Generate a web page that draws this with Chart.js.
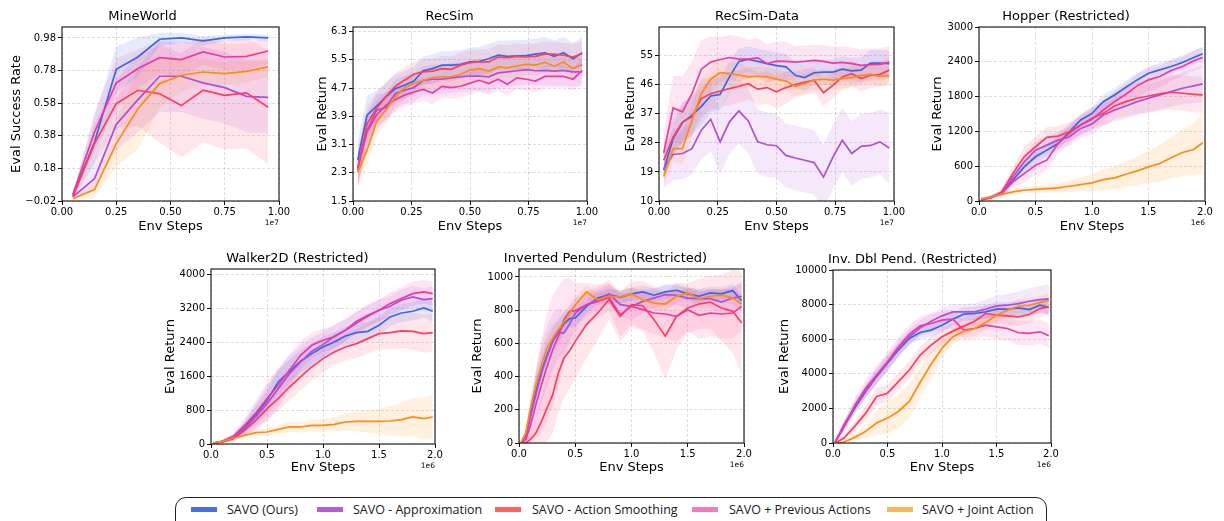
<!DOCTYPE html>
<html>
<head>
<meta charset="utf-8">
<title>SAVO ablations</title>
<script src="https://cdn.jsdelivr.net/npm/chart.js@4.4.1/dist/chart.umd.min.js"></script>
<style>
  html, body { margin: 0; padding: 0; background: #fff; }
  body { width: 1224px; height: 521px; overflow: hidden; position: relative; }
  canvas.panel { position: absolute; }
  #legend { position: absolute; left: 175px; top: 497px; width: 872px; height: 36px;
            border: 1.3px solid #222; border-radius: 11px; box-sizing: border-box; }
  .swatch { position: absolute; top: 507px; height: 5px; }
  .key { position: absolute; top: 500px; height: 20px; line-height: 20px; white-space: nowrap;
         font-family: 'Open Sans', 'Noto Sans', sans-serif; font-size: 12.5px; color: #1a1a1a; }
</style>
</head>
<body>
<div id="legend"></div>
<script>
// ---------- tick values and labels ----------
const unitXTicks = [0, 0.25, 0.5, 0.75, 1.0];
const unitXLabels = ['0.00', '0.25', '0.50', '0.75', '1.00'];
const millionXTicks = [0, 0.5, 1.0, 1.5, 2.0];
const millionXLabels = ['0.0', '0.5', '1.0', '1.5', '2.0'];

const mineYTicks = [-0.02, 0.18, 0.38, 0.58, 0.78, 0.98];
const mineYLabels = ['\u22120.02', '0.18', '0.38', '0.58', '0.78', '0.98'];
const recsimYTicks = [1.5, 2.3, 3.1, 3.9, 4.7, 5.5, 6.3];
const recsimYLabels = ['1.5', '2.3', '3.1', '3.9', '4.7', '5.5', '6.3'];
const recdataYTicks = [10, 19, 28, 37, 46, 55];
const recdataYLabels = ['10', '19', '28', '37', '46', '55'];
const hopperYTicks = [0, 600, 1200, 1800, 2400, 3000];
const hopperYLabels = ['0', '600', '1200', '1800', '2400', '3000'];
const walkerYTicks = [0, 800, 1600, 2400, 3200, 4000];
const walkerYLabels = ['0', '800', '1600', '2400', '3200', '4000'];
const pendYTicks = [0, 200, 400, 600, 800, 1000];
const pendYLabels = ['0', '200', '400', '600', '800', '1000'];
const dblYTicks = [0, 2000, 4000, 6000, 8000, 10000];
const dblYLabels = ['0', '2000', '4000', '6000', '8000', '10000'];

// ---------- MineWorld (x in 1e7 steps) ----------
const mineSteps = [0.05, 0.15, 0.25, 0.35, 0.45, 0.55, 0.65, 0.75, 0.85, 0.95];
const mineSavo = [0.015, 0.342, 0.788, 0.863, 0.972, 0.98, 0.962, 0.98, 0.986, 0.98];
const mineSavoBand = [0.01, 0.16, 0.14, 0.12, 0.04, 0.03, 0.03, 0.02, 0.02, 0.02];
const mineApprox = [0.005, 0.117, 0.45, 0.602, 0.745, 0.745, 0.704, 0.675, 0.622, 0.616];
const mineApproxBand = [0.01, 0.06, 0.16, 0.2, 0.22, 0.22, 0.22, 0.22, 0.22, 0.22];
const mineSmooth = [0.005, 0.332, 0.577, 0.659, 0.638, 0.565, 0.659, 0.628, 0.643, 0.555];
const mineSmoothBand = [0.01, 0.12, 0.15, 0.22, 0.3, 0.32, 0.32, 0.33, 0.34, 0.35];
const minePrev = [0.021, 0.403, 0.704, 0.792, 0.859, 0.847, 0.894, 0.863, 0.867, 0.90];
const minePrevBand = [0.01, 0.12, 0.15, 0.12, 0.1, 0.1, 0.08, 0.08, 0.08, 0.08];
const mineJoint = [-0.006, 0.05, 0.332, 0.546, 0.70, 0.751, 0.771, 0.761, 0.775, 0.802];
const mineJointBand = [0.01, 0.05, 0.14, 0.25, 0.15, 0.1, 0.08, 0.07, 0.07, 0.06];

// ---------- RecSim (x in 1e7 steps) ----------
const recsimSteps = [0.02, 0.06, 0.10, 0.14, 0.18, 0.22, 0.26, 0.30, 0.34, 0.38, 0.42, 0.46, 0.50,
                     0.54, 0.58, 0.62, 0.66, 0.70, 0.74, 0.78, 0.82, 0.86, 0.90, 0.94, 0.98];
const recsimSavo = [2.65, 3.93, 4.18, 4.45, 4.68, 4.78, 4.90, 5.19, 5.25, 5.35, 5.35, 5.37, 5.44,
                    5.46, 5.53, 5.63, 5.60, 5.61, 5.62, 5.66, 5.70, 5.60, 5.70, 5.53, 5.70];
const recsimSavoBand = [0.5, 0.55, 0.45, 0.4, 0.4, 0.4, 0.4, 0.4, 0.4, 0.4, 0.4, 0.4, 0.4,
                        0.4, 0.42, 0.42, 0.45, 0.45, 0.45, 0.45, 0.45, 0.45, 0.45, 0.45, 0.45];
const recsimApprox = [2.46, 3.50, 4.07, 4.15, 4.54, 4.64, 4.71, 4.92, 4.95, 4.95, 4.99, 5.02, 5.04,
                      5.04, 5.02, 5.13, 5.16, 5.19, 5.22, 5.19, 5.20, 5.18, 5.20, 5.16, 5.16];
const recsimApproxBand = [0.5, 0.5, 0.45, 0.4, 0.4, 0.4, 0.4, 0.42, 0.42, 0.42, 0.42, 0.42, 0.42,
                          0.42, 0.42, 0.42, 0.42, 0.42, 0.42, 0.42, 0.42, 0.42, 0.42, 0.42, 0.42];
const recsimSmooth = [2.37, 3.69, 4.12, 4.45, 4.75, 4.92, 5.09, 5.16, 5.18, 5.25, 5.23, 5.35, 5.42,
                      5.44, 5.44, 5.58, 5.56, 5.60, 5.58, 5.60, 5.66, 5.66, 5.63, 5.58, 5.68];
const recsimSmoothBand = [0.45, 0.5, 0.45, 0.4, 0.38, 0.36, 0.36, 0.36, 0.36, 0.36, 0.36, 0.36, 0.36,
                          0.36, 0.36, 0.36, 0.36, 0.36, 0.36, 0.36, 0.36, 0.36, 0.36, 0.36, 0.36];
const recsimPrev = [2.42, 3.46, 3.93, 4.21, 4.37, 4.50, 4.59, 4.66, 4.56, 4.75, 4.71, 4.75, 4.84,
                    4.92, 4.83, 4.95, 4.81, 4.99, 4.95, 4.90, 5.03, 5.03, 5.03, 4.95, 5.20];
const recsimPrevBand = [0.5, 0.5, 0.42, 0.38, 0.35, 0.33, 0.32, 0.32, 0.32, 0.32, 0.32, 0.32, 0.32,
                        0.32, 0.32, 0.32, 0.32, 0.32, 0.32, 0.32, 0.32, 0.32, 0.32, 0.32, 0.35];
const recsimJoint = [2.32, 2.94, 3.74, 4.07, 4.45, 4.71, 4.83, 4.92, 5.00, 5.02, 5.02, 5.09, 5.21,
                     5.25, 5.18, 5.30, 5.27, 5.33, 5.37, 5.35, 5.43, 5.32, 5.44, 5.25, 5.37];
const recsimJointBand = [0.45, 0.45, 0.4, 0.36, 0.34, 0.32, 0.3, 0.3, 0.3, 0.3, 0.3, 0.3, 0.3,
                         0.3, 0.3, 0.3, 0.3, 0.3, 0.3, 0.3, 0.3, 0.3, 0.3, 0.3, 0.3];

// ---------- RecSim-Data (x in 1e7 steps) ----------
const recdataSteps = recsimSteps;
const recdataSavo = [19.5, 29.3, 34.3, 36.5, 39.3, 42.5, 43.0, 48.4, 53.2, 53.8, 53.2, 52.5, 51.9,
                     51.5, 48.9, 48.2, 49.7, 49.9, 49.9, 50.8, 50.3, 50.5, 52.7, 52.7, 52.5];
const recdataSavoBand = [3, 5, 6, 6, 6, 5, 5, 5, 4, 4, 4, 4, 4, 4, 4, 4, 4, 4, 4, 4, 4, 4, 4, 4, 4];
const recdataApprox = [20.0, 24.4, 24.7, 26.2, 31.9, 35.3, 28.3, 34.5, 37.9, 34.8, 28.3, 27.4, 27.1,
                       24.1, 23.3, 22.6, 21.9, 17.4, 23.6, 28.8, 24.7, 26.9, 27.2, 28.3, 26.4];
const recdataApproxBand = [6, 8, 8, 8, 9, 10, 10, 10, 10, 10, 10, 10, 10, 10, 10, 10, 10, 10, 10, 10, 10, 10, 10, 10, 11];
const recdataSmooth = [22.6, 29.8, 34.5, 36.0, 41.7, 43.2, 44.0, 44.8, 45.5, 46.3, 44.6, 45.1, 43.8,
                       45.1, 46.0, 46.8, 47.4, 43.5, 45.8, 48.4, 49.4, 47.9, 48.9, 49.2, 50.5];
const recdataSmoothBand = [5, 6, 6, 6, 6, 5, 5, 5, 5, 5, 5, 5, 5, 5, 4, 4, 4, 4, 4, 4, 4, 4, 4, 4, 4];
const recdataPrev = [24.9, 38.8, 37.6, 43.2, 50.8, 53.0, 53.8, 54.4, 53.9, 53.9, 54.3, 52.5, 53.3,
                     53.2, 53.0, 53.2, 53.5, 53.2, 52.7, 52.9, 52.5, 52.0, 52.2, 52.3, 53.0];
const recdataPrevBand = [6, 10, 11, 10, 9, 8, 7, 7, 7, 6, 6, 6, 6, 6, 5, 5, 5, 5, 5, 5, 5, 5, 5, 5, 5];
const recdataJoint = [17.6, 26.2, 26.2, 35.0, 43.2, 47.7, 49.7, 49.4, 49.0, 48.4, 48.6, 48.4, 47.7,
                      47.1, 45.5, 46.3, 47.4, 47.7, 47.4, 47.9, 48.2, 48.9, 49.2, 48.6, 48.7];
const recdataJointBand = [3, 4, 5, 5, 5, 4, 4, 4, 4, 3, 3, 3, 3, 3, 3, 3, 3, 3, 3, 3, 3, 3, 3, 3, 3];

// ---------- Hopper (x in 1e6 steps) ----------
const hopperSteps = [0.02, 0.1, 0.2, 0.3, 0.4, 0.5, 0.6, 0.7, 0.8, 0.9, 1.0,
                     1.1, 1.2, 1.3, 1.4, 1.5, 1.6, 1.7, 1.8, 1.9, 1.98];
const hopperSavo = [29, 69, 138, 358, 588, 762, 877, 992, 1194, 1396, 1511,
                    1713, 1829, 1961, 2088, 2204, 2261, 2319, 2388, 2475, 2538];
const hopperSavoBand = [15, 20, 40, 80, 100, 110, 110, 110, 110, 110, 120,
                        120, 120, 120, 120, 120, 120, 120, 120, 120, 120];
const hopperApprox = [25, 58, 138, 415, 675, 877, 963, 1050, 1108, 1252, 1327,
                      1483, 1569, 1638, 1713, 1771, 1829, 1886, 1944, 1985, 2019];
const hopperApproxBand = [15, 20, 40, 90, 130, 150, 150, 150, 160, 170, 180,
                          190, 200, 220, 230, 240, 250, 260, 270, 300, 320];
const hopperSmooth = [23, 58, 156, 473, 762, 935, 1096, 1119, 1194, 1310, 1425,
                      1511, 1638, 1713, 1771, 1811, 1846, 1875, 1858, 1840, 1829];
const hopperSmoothBand = [15, 20, 50, 120, 170, 180, 180, 170, 160, 170, 190,
                          210, 230, 250, 270, 280, 290, 300, 300, 310, 320];
const hopperPrev = [20, 52, 127, 329, 473, 617, 704, 992, 1165, 1310, 1408,
                    1569, 1713, 1840, 1985, 2088, 2146, 2250, 2319, 2417, 2475];
const hopperPrevBand = [15, 20, 40, 100, 150, 170, 180, 170, 170, 170, 170,
                        170, 180, 190, 200, 200, 190, 180, 170, 170, 170];
const hopperJoint = [40, 69, 115, 156, 185, 202, 213, 225, 254, 283, 312,
                     369, 398, 462, 519, 588, 646, 744, 836, 888, 1004];
const hopperJointBand = [20, 25, 30, 40, 50, 60, 70, 80, 100, 120, 150,
                         180, 200, 220, 250, 280, 320, 360, 400, 450, 520];

// ---------- Walker2D (x in 1e6 steps) ----------
const walkerSteps = hopperSteps;
const walkerSavo = [24, 63, 165, 402, 693, 1031, 1465, 1717, 1953, 2134, 2291,
                    2409, 2551, 2630, 2661, 2803, 3000, 3094, 3134, 3213, 3134];
const walkerSavoBand = [15, 30, 60, 120, 200, 250, 280, 280, 260, 250, 240,
                        230, 220, 220, 220, 220, 220, 220, 220, 230, 240];
const walkerApprox = [20, 47, 142, 362, 638, 953, 1307, 1661, 1937, 2189, 2346,
                      2543, 2685, 2898, 3039, 3157, 3252, 3394, 3472, 3409, 3433];
const walkerApproxBand = [15, 30, 80, 180, 320, 420, 450, 420, 380, 330, 300,
                          280, 260, 250, 250, 250, 250, 250, 260, 270, 280];
const walkerSmooth = [16, 47, 126, 323, 559, 835, 1071, 1346, 1583, 1819, 2016,
                      2173, 2291, 2370, 2488, 2606, 2630, 2669, 2661, 2606, 2630];
const walkerSmoothBand = [15, 30, 60, 120, 200, 260, 300, 320, 320, 320, 320,
                          320, 320, 340, 360, 380, 400, 420, 440, 450, 450];
const walkerPrev = [20, 63, 181, 441, 732, 1071, 1386, 1740, 2094, 2331, 2449,
                    2528, 2685, 2858, 3016, 3157, 3315, 3433, 3551, 3591, 3551];
const walkerPrevBand = [15, 30, 80, 180, 300, 380, 400, 380, 340, 300, 280,
                        260, 260, 260, 260, 260, 260, 270, 280, 280, 280];
const walkerJoint = [16, 63, 142, 205, 268, 283, 346, 402, 402, 441, 441,
                     465, 520, 535, 535, 535, 543, 575, 638, 598, 638];
const walkerJointBand = [10, 20, 30, 50, 70, 90, 110, 120, 130, 140, 150,
                         170, 200, 230, 260, 300, 350, 400, 450, 500, 520];

// ---------- Inverted Pendulum (x in 1e6 steps) ----------
const pendSteps = [0.02, 0.06, 0.1, 0.15, 0.2, 0.25, 0.3, 0.35, 0.4, 0.45, 0.5, 0.6, 0.7,
                   0.8, 0.9, 1.0, 1.1, 1.2, 1.3, 1.4, 1.5, 1.6, 1.7, 1.8, 1.9, 1.98];
const pendSavo = [4, 50, 171, 311, 432, 532, 612, 669, 717, 749, 753, 823, 873,
                  894, 877, 898, 910, 890, 910, 920, 898, 884, 904, 898, 918, 857];
const pendSavoBand = [5, 30, 60, 80, 90, 90, 80, 70, 60, 50, 50, 40, 40,
                      40, 40, 40, 40, 40, 40, 40, 40, 40, 40, 40, 40, 40];
const pendApprox = [2, 30, 151, 291, 422, 522, 612, 663, 663, 717, 783, 833, 863,
                    898, 833, 823, 853, 873, 894, 890, 873, 869, 869, 849, 873, 884];
const pendApproxBand = [5, 40, 100, 150, 180, 180, 170, 150, 130, 110, 90, 70, 60,
                        60, 70, 80, 70, 60, 60, 60, 60, 60, 60, 70, 70, 80];
const pendSmooth = [0, 0, 20, 60, 131, 211, 291, 422, 512, 556, 612, 713, 783,
                    863, 763, 833, 827, 743, 643, 763, 813, 837, 849, 813, 793, 723];
const pendSmoothBand = [5, 10, 40, 90, 150, 200, 230, 240, 240, 230, 220, 200, 160,
                        120, 150, 140, 150, 200, 260, 200, 150, 150, 160, 200, 250, 310];
const pendPrev = [2, 20, 100, 231, 351, 462, 562, 643, 743, 793, 797, 833, 853,
                  877, 773, 823, 803, 783, 777, 763, 803, 769, 783, 777, 783, 823];
const pendPrevBand = [5, 30, 100, 200, 280, 330, 330, 300, 250, 200, 170, 130, 100,
                      80, 130, 110, 120, 130, 140, 150, 130, 140, 140, 150, 150, 150];
const pendJoint = [6, 60, 201, 351, 472, 572, 633, 683, 729, 783, 833, 910, 863,
                   884, 880, 898, 863, 843, 837, 884, 904, 869, 884, 890, 873, 837];
const pendJointBand = [5, 30, 60, 80, 90, 90, 80, 70, 60, 50, 50, 40, 40,
                       40, 40, 40, 40, 40, 40, 40, 40, 40, 40, 40, 40, 40];

// ---------- Inverted Double Pendulum (x in 1e6 steps) ----------
const dblSteps = hopperSteps;
const dblSavo = [58, 960, 2015, 2974, 3838, 4606, 5373, 6045, 6390, 6525, 6812,
                 7158, 7446, 7484, 7580, 7733, 7733, 7810, 7714, 7964, 7830];
const dblSavoBand = [30, 200, 300, 350, 400, 400, 400, 400, 400, 400, 400,
                     400, 400, 400, 400, 400, 400, 400, 400, 400, 400];
const dblApprox = [58, 1055, 2111, 3013, 3876, 4644, 5431, 6141, 6659, 7043, 7350,
                   7580, 7580, 7580, 7733, 7925, 7964, 8060, 8194, 8290, 8328];
const dblApproxBand = [30, 250, 350, 400, 450, 450, 450, 450, 450, 450, 450,
                       450, 450, 500, 550, 600, 650, 700, 750, 800, 850];
const dblSmooth = [0, 288, 960, 1727, 2687, 2879, 3550, 4222, 5085, 5661, 6141,
                   6467, 6755, 7043, 7484, 7388, 7350, 7292, 7427, 7772, 7868];
const dblSmoothBand = [20, 150, 300, 400, 500, 500, 500, 500, 500, 500, 500,
                       500, 500, 500, 500, 500, 500, 500, 500, 500, 500];
const dblPrev = [58, 902, 2168, 3166, 3934, 4702, 5565, 6275, 6774, 6908, 7100,
                 7158, 6525, 6620, 6812, 6716, 6620, 6371, 6333, 6429, 6198];
const dblPrevBand = [30, 300, 450, 500, 550, 550, 550, 550, 550, 550, 550,
                     550, 550, 600, 650, 700, 700, 700, 700, 700, 700];
const dblJoint = [0, 58, 326, 672, 1151, 1439, 1823, 2399, 3512, 4548, 5469,
                  6141, 6467, 6620, 6966, 7388, 7676, 7906, 7964, 8117, 8252];
const dblJointBand = [10, 50, 200, 400, 700, 900, 1000, 1000, 900, 800, 600,
                      450, 400, 400, 400, 400, 400, 400, 400, 400, 400];

// ---------- methods ----------
const methodNames = ['SAVO (Ours)', 'SAVO - Approximation', 'SAVO - Action Smoothing',
                     'SAVO + Previous Actions', 'SAVO + Joint Action'];
const lineColors = ['#3d64e4', '#ae4fd6', '#ff3d5e', '#f0389f', '#ff8a12'];
const keyColors  = ['#4a6fe3', '#b45dd6', '#ff6262', '#f27dbc', '#f9b65c'];
const bandRGB    = ['61,100,228', '174,79,214', '255,61,94', '240,56,159', '255,138,18'];

const FONT = "'DejaVu Sans', 'Liberation Sans', sans-serif";

// panel layout: canvas origin, y-axis width, plot size, x-axis height
const panels = [
  { title: 'MineWorld', yTitle: 'Eval Success Rate', steps: mineSteps,
    lines: [mineSavo, mineApprox, mineSmooth, minePrev, mineJoint],
    bands: [mineSavoBand, mineApproxBand, mineSmoothBand, minePrevBand, mineJointBand],
    xTicks: unitXTicks, xLabels: unitXLabels, xMax: 1.0, offsetText: '1e7',
    yTicks: mineYTicks, yLabels: mineYLabels, yMin: -0.02, yMax: 1.047,
    left: 6, top: 0, yW: 56, plotW: 217, plotH: 174, xH: 35 },
  { title: 'RecSim', yTitle: 'Eval Return', steps: recsimSteps,
    lines: [recsimSavo, recsimApprox, recsimSmooth, recsimPrev, recsimJoint],
    bands: [recsimSavoBand, recsimApproxBand, recsimSmoothBand, recsimPrevBand, recsimJointBand],
    xTicks: unitXTicks, xLabels: unitXLabels, xMax: 1.0, offsetText: '1e7',
    yTicks: recsimYTicks, yLabels: recsimYLabels, yMin: 1.5, yMax: 6.43,
    left: 312, top: 0, yW: 41, plotW: 234, plotH: 174, xH: 35 },
  { title: 'RecSim-Data', yTitle: 'Eval Return', steps: recdataSteps,
    lines: [recdataSavo, recdataApprox, recdataSmooth, recdataPrev, recdataJoint],
    bands: [recdataSavoBand, recdataApproxBand, recdataSmoothBand, recdataPrevBand, recdataJointBand],
    xTicks: unitXTicks, xLabels: unitXLabels, xMax: 1.0, offsetText: '1e7',
    yTicks: recdataYTicks, yLabels: recdataYLabels, yMin: 10, yMax: 63.85,
    left: 620, top: 0, yW: 39, plotW: 235, plotH: 174, xH: 35 },
  { title: 'Hopper (Restricted)', yTitle: 'Eval Return', steps: hopperSteps,
    lines: [hopperSavo, hopperApprox, hopperSmooth, hopperPrev, hopperJoint],
    bands: [hopperSavoBand, hopperApproxBand, hopperSmoothBand, hopperPrevBand, hopperJointBand],
    xTicks: millionXTicks, xLabels: millionXLabels, xMax: 2.0, offsetText: '1e6',
    yTicks: hopperYTicks, yLabels: hopperYLabels, yMin: 0, yMax: 3000,
    left: 927, top: 0, yW: 52, plotW: 226, plotH: 174, xH: 35 },
  { title: 'Walker2D (Restricted)', yTitle: 'Eval Return', steps: walkerSteps,
    lines: [walkerSavo, walkerApprox, walkerSmooth, walkerPrev, walkerJoint],
    bands: [walkerSavoBand, walkerApproxBand, walkerSmoothBand, walkerPrevBand, walkerJointBand],
    xTicks: millionXTicks, xLabels: millionXLabels, xMax: 2.0, offsetText: '1e6',
    yTicks: walkerYTicks, yLabels: walkerYLabels, yMin: 0, yMax: 4132,
    left: 160, top: 242, yW: 51, plotW: 224, plotH: 175, xH: 33 },
  { title: 'Inverted Pendulum (Restricted)', yTitle: 'Eval Return', steps: pendSteps,
    lines: [pendSavo, pendApprox, pendSmooth, pendPrev, pendJoint],
    bands: [pendSavoBand, pendApproxBand, pendSmoothBand, pendPrevBand, pendJointBand],
    xTicks: millionXTicks, xLabels: millionXLabels, xMax: 2.0, offsetText: '1e6',
    yTicks: pendYTicks, yLabels: pendYLabels, yMin: 0, yMax: 1048,
    left: 467, top: 242, yW: 52, plotW: 225, plotH: 174, xH: 34 },
  { title: 'Inv. Dbl Pend. (Restricted)', yTitle: 'Eval Return', steps: dblSteps,
    lines: [dblSavo, dblApprox, dblSmooth, dblPrev, dblJoint],
    bands: [dblSavoBand, dblApproxBand, dblSmoothBand, dblPrevBand, dblJointBand],
    xTicks: millionXTicks, xLabels: millionXLabels, xMax: 2.0, offsetText: '1e6',
    yTicks: dblYTicks, yLabels: dblYLabels, yMin: 0, yMax: 10000,
    left: 774, top: 243, yW: 59, plotW: 218, plotH: 173, xH: 34 }
];

const RIGHT_PAD = 16;
const TITLE_H = 27;

// axes box on all four sides plus the scientific offset label
const framePlugin = {
  id: 'frame',
  afterDatasetsDraw(chart) {
    const a = chart.chartArea, ctx = chart.ctx;
    ctx.save();
    ctx.strokeStyle = '#111';
    ctx.lineWidth = 1.1;
    ctx.strokeRect(a.left, a.top, a.right - a.left, a.bottom - a.top);
    ctx.restore();
  },
  afterDraw(chart, args, opts) {
    const a = chart.chartArea, ctx = chart.ctx;
    ctx.save();
    ctx.fillStyle = '#000';
    ctx.font = '7.5px ' + FONT;
    ctx.textAlign = 'right';
    ctx.textBaseline = 'middle';
    ctx.fillText(opts.text, a.right, a.bottom + 22);
    ctx.restore();
  }
};

function pointsOf(steps, ys) {
  return steps.map((x, j) => ({ x: x, y: ys[j] }));
}

panels.forEach(p => {
  const canvas = document.createElement('canvas');
  canvas.className = 'panel';
  const w = p.yW + p.plotW + RIGHT_PAD;
  const h = TITLE_H + p.plotH + p.xH;
  canvas.width = w; canvas.height = h;
  canvas.style.left = p.left + 'px';
  canvas.style.top = p.top + 'px';
  canvas.style.width = w + 'px';
  canvas.style.height = h + 'px';
  document.body.appendChild(canvas);

  const datasets = [];
  // shaded spread around each curve
  p.lines.forEach((ys, i) => {
    const band = p.bands[i];
    datasets.push({
      data: pointsOf(p.steps, ys.map((v, j) => v - band[j])),
      borderWidth: 0, pointRadius: 0, fill: false, order: 20 + i
    });
    datasets.push({
      data: pointsOf(p.steps, ys.map((v, j) => v + band[j])),
      borderWidth: 0, pointRadius: 0, fill: '-1', order: 20 + i,
      backgroundColor: 'rgba(' + bandRGB[i] + ',0.13)'
    });
  });
  // mean curves
  p.lines.forEach((ys, i) => {
    datasets.push({
      label: methodNames[i],
      data: pointsOf(p.steps, ys),
      borderColor: lineColors[i], borderWidth: 1.7, pointRadius: 0,
      fill: false, tension: 0, order: 5 - i
    });
  });

  const tickFont = { family: FONT, size: 10 };
  const labelFont = { family: FONT, size: 13, lineHeight: 1 };
  const gridOpts = { color: 'rgba(0,0,0,0.17)', lineWidth: 0.8, drawTicks: true,
                     tickLength: 4, tickColor: '#111', tickWidth: 1 };

  new Chart(canvas, {
    type: 'line',
    data: { datasets: datasets },
    plugins: [framePlugin],
    options: {
      responsive: false, animation: false, devicePixelRatio: 1,
      layout: { padding: { left: 0, right: RIGHT_PAD, top: 0, bottom: 0 } },
      events: [],
      plugins: {
        legend: { display: false },
        tooltip: { enabled: false },
        title: { display: true, text: p.title, color: '#000',
                 font: { family: FONT, size: 13, lineHeight: 1, weight: 'normal' },
                 padding: { top: 10, bottom: 4 } },
        frame: { text: p.offsetText }
      },
      scales: {
        x: {
          type: 'linear', min: 0, max: p.xMax,
          afterBuildTicks: s => { s.ticks = p.xTicks.map(v => ({ value: v })); },
          afterFit: s => { s.height = p.xH; s.paddingLeft = 0; s.paddingRight = 0; },
          ticks: { autoSkip: false, maxRotation: 0, minRotation: 0, padding: 1, color: '#000',
                   font: tickFont, callback: (v, i) => p.xLabels[i] },
          grid: gridOpts,
          border: { display: false, dash: [3, 2] },
          title: { display: true, text: 'Env Steps', color: '#000', font: labelFont,
                   padding: { top: 0, bottom: 3 } }
        },
        y: {
          type: 'linear', min: p.yMin, max: p.yMax,
          afterBuildTicks: s => { s.ticks = p.yTicks.map(v => ({ value: v })); },
          afterFit: s => { s.width = p.yW; s.paddingTop = 0; s.paddingBottom = 0; },
          ticks: { autoSkip: false, padding: 2, color: '#000', font: tickFont,
                   callback: (v, i) => p.yLabels[i] },
          grid: gridOpts,
          border: { display: false, dash: [3, 2] },
          title: { display: true, text: p.yTitle, color: '#000', font: labelFont,
                   padding: { top: 4, bottom: 0 } }
        }
      }
    }
  });
});

// legend strip
const swatchLeft = [191, 317, 495, 692, 887];
const keyLeft = [227, 353, 532, 729, 922];
methodNames.forEach((name, i) => {
  const sw = document.createElement('div');
  sw.className = 'swatch';
  sw.style.left = swatchLeft[i] + 'px';
  sw.style.width = '26px';
  sw.style.background = keyColors[i];
  document.body.appendChild(sw);
  const t = document.createElement('div');
  t.className = 'key';
  t.style.left = keyLeft[i] + 'px';
  t.textContent = name;
  document.body.appendChild(t);
});
</script>
</body>
</html>
